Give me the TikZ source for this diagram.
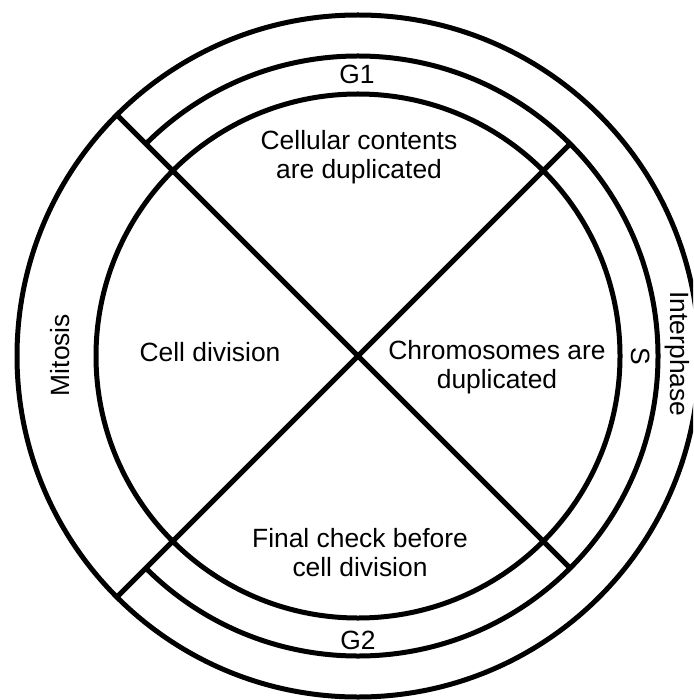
\documentclass[tikz,border=0pt]{standalone}
\usepackage{fontspec}
\setmainfont{Liberation Sans}
\begin{document}
\begin{tikzpicture}[x=1pt,y=1pt,
  ring/.style={line width=5pt,draw=black},
  lbl/.style={font=\fontsize{26.4}{29}\selectfont,align=center,inner sep=0pt,text=black}]
\useasboundingbox (0,0) rectangle (693,-700);
\clip (0,0) rectangle (693,-700);
\fill[white] (0,0) rectangle (693,-700);
\coordinate (C) at (358,-356);
% circles
\draw[ring] (C) circle (341pt);
\draw[ring] (C) circle (262pt);
\draw[ring] ([shift={(C)}]135:300pt) arc[start angle=135,end angle=-135,radius=300pt];
% diagonal end points
\coordinate (nw) at ([shift={(C)}]135:341pt);
\coordinate (se) at ([shift={(C)}]-45:300pt);
\coordinate (ne) at ([shift={(C)}]45:300pt);
\coordinate (sw) at ([shift={(C)}]225:341pt);
\draw[ring] (nw) -- (se);
\draw[ring] (ne) -- (sw);
% labels
\node[lbl] (g1) at (357,-74) {G1};
\node[lbl] (g2) at (358,-640) {G2};
\node[lbl] (top) at (359,-157) {Cellular contents\\are duplicated};
\node[lbl] (left) at (210,-352) {Cell division};
\node[lbl] (right) at (497,-367) {Chromosomes are\\duplicated};
\node[lbl] (bottom) at (360,-553) {Final check before\\cell division};
\node[lbl,rotate=90] (mit) at (60,-355) {Mitosis};
\node[lbl,rotate=-90] (s) at (641,-356) {S};
\node[lbl,rotate=-90] (inter) at (677,-354) {Interphase};
\end{tikzpicture}
\end{document}
